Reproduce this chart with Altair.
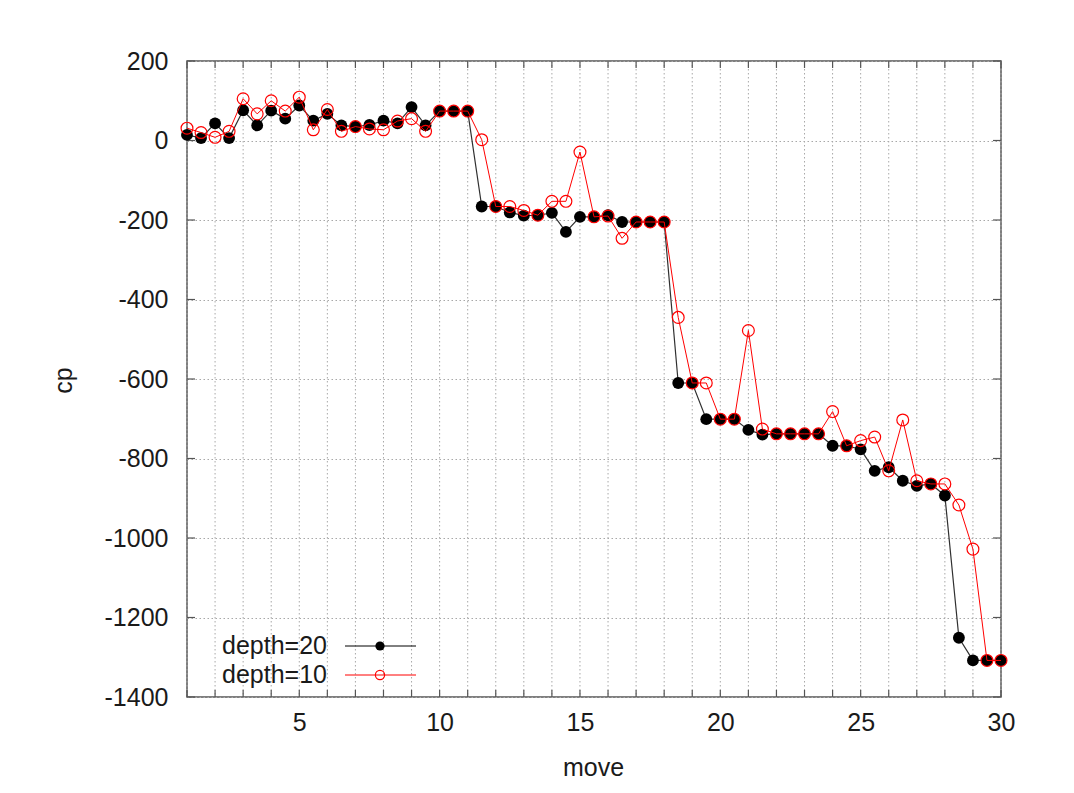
import altair as alt
import pandas as pd

# ---- data ----
moves = [1, 1.5, 2, 2.5, 3, 3.5, 4, 4.5, 5, 5.5, 6, 6.5, 7, 7.5, 8, 8.5, 9, 9.5, 10, 10.5,
         11, 11.5, 12, 12.5, 13, 13.5, 14, 14.5, 15, 15.5, 16, 16.5, 17, 17.5, 18, 18.5, 19, 19.5, 20, 20.5,
         21, 21.5, 22, 22.5, 23, 23.5, 24, 24.5, 25, 25.5, 26, 26.5, 27, 27.5, 28, 28.5, 29, 29.5, 30]
depth20 = [14, 6, 43, 6, 76, 38, 75, 55, 88, 50, 67, 38, 35, 39, 50, 43, 84, 38, 74, 74,
           74, -166, -166, -181, -189, -188, -182, -230, -192, -192, -188, -205, -205, -205, -205, -610, -610, -701, -701, -701,
           -728, -740, -738, -738, -738, -738, -768, -768, -777, -831, -822, -856, -869, -864, -893, -1251, -1308, -1308, -1308]
depth10 = [31, 20, 8, 23, 105, 67, 100, 74, 109, 27, 78, 23, 35, 29, 27, 49, 55, 23, 74, 74,
           74, 2, -166, -166, -176, -188, -153, -153, -29, -192, -190, -246, -205, -205, -205, -445, -610, -610, -701, -701,
           -478, -726, -738, -738, -738, -738, -682, -768, -755, -746, -831, -703, -856, -864, -864, -917, -1028, -1308, -1308]
series_names = ["depth=20", "depth=10"]
x_ticks = list(range(1, 31))
x_labels = [5, 10, 15, 20, 25, 30]
y_ticks = [-1400, -1200, -1000, -800, -600, -400, -200, 0, 200]

W, H = 814, 636
FONT = "Liberation Sans"
FRAME = "#555555"
GRID = "#a8a8a8"
TXT = "#1a1a1a"

df20 = pd.DataFrame({"move": moves, "cp": depth20})
df10 = pd.DataFrame({"move": moves, "cp": depth10})
xt = pd.DataFrame({"move": x_ticks})
yt = pd.DataFrame({"cp": y_ticks})

xscale = alt.Scale(domain=[1, 30], nice=False, zero=False)
yscale = alt.Scale(domain=[-1400, 200], nice=False, zero=False)

x_axis = alt.Axis(
    values=x_labels, labelExpr="toString(datum.value)",
    grid=False, ticks=False, domain=False, labelPadding=13, labelFlush=False, labelOverlap=False,
    labelFont=FONT, labelFontSize=25, labelColor=TXT,
    title="move", titleX=406, titleY=70, titleBaseline="middle", titleAlign="center",
    titleFont=FONT, titleFontSize=25, titleFontWeight="normal", titleColor=TXT,
)
y_axis = alt.Axis(
    values=y_ticks, labelExpr="toString(datum.value)",
    grid=True, gridDash=[1.5, 2.5], gridColor=GRID, gridWidth=1,
    ticks=False, domain=False, labelPadding=19, labelFlush=False, labelOverlap=False,
    labelFont=FONT, labelFontSize=25, labelColor=TXT,
    title="cp", titleX=-124, titleY=319, titleAngle=270, titleBaseline="middle", titleAlign="center",
    titleFont=FONT, titleFontSize=25, titleFontWeight="normal", titleColor=TXT,
)

X = alt.X("move:Q", scale=xscale)
Y = alt.Y("cp:Q", scale=yscale)

# vertical dotted grid at every move
grid_x = alt.Chart(xt).mark_rule(color=GRID, strokeWidth=1, strokeDash=[1.5, 2.5]).encode(
    x=X, y=alt.value(0), y2=alt.value(H))

# black series line carries the axes
line20 = alt.Chart(df20).mark_line(color="#303030", strokeWidth=1.2).encode(
    x=alt.X("move:Q", scale=xscale, axis=x_axis),
    y=alt.Y("cp:Q", scale=yscale, axis=y_axis),
)
pts20 = alt.Chart(df20).mark_point(shape="circle", filled=True, color="black", size=140, opacity=1).encode(x=X, y=Y)
line10 = alt.Chart(df10).mark_line(color="#ff0000", strokeWidth=1).encode(x=X, y=Y)
pts10 = alt.Chart(df10).mark_point(shape="circle", filled=False, color="#ff0000", strokeWidth=1.2,
                                   size=140, opacity=1).encode(x=X, y=Y)

# inward mirrored ticks like gnuplot
tick_bottom = alt.Chart(xt).mark_rule(color=FRAME, strokeWidth=1.2).encode(
    x=X, y=alt.value(H - 7), y2=alt.value(H))
tick_top = alt.Chart(xt).mark_rule(color=FRAME, strokeWidth=1.2).encode(
    x=X, y=alt.value(0), y2=alt.value(7))
tick_left = alt.Chart(yt).mark_rule(color=FRAME, strokeWidth=1.2).encode(
    y=Y, x=alt.value(0), x2=alt.value(8))
tick_right = alt.Chart(yt).mark_rule(color=FRAME, strokeWidth=1.2).encode(
    y=Y, x=alt.value(W - 8), x2=alt.value(W))

# legend (gnuplot style: label, then sample line with marker)
leg = []
rows = [(series_names[0], 585, "#000000", True), (series_names[1], 614, "#ff0000", False)]
for name, yy, col, filled in rows:
    d = pd.DataFrame({"name": [name]})
    leg.append(alt.Chart(d).mark_text(align="right", baseline="middle", font=FONT, fontSize=25,
                                      color=TXT).encode(
        text="name:N", x=alt.value(140), y=alt.value(yy)))
    leg.append(alt.Chart(d).mark_rule(color=col, strokeWidth=1).encode(
        x=alt.value(158), x2=alt.value(229), y=alt.value(yy)))
    leg.append(alt.Chart(d).mark_point(shape="circle", filled=filled, color=col, size=85,
                                       strokeWidth=1.2, opacity=1).encode(
        x=alt.value(193), y=alt.value(yy)))

chart = alt.layer(
    grid_x, line20, tick_bottom, tick_top, tick_left, tick_right,
    pts20, line10, pts10, *leg
).properties(
    width=W, height=H,
    autosize=alt.AutoSizeParams(type="none"),
    padding={"left": 179, "top": 53, "right": 65, "bottom": 88},
    background="white",
).configure_view(stroke=FRAME, strokeWidth=1.5)

chart.save("out.html", embed_options={"renderer": "svg", "actions": False})
